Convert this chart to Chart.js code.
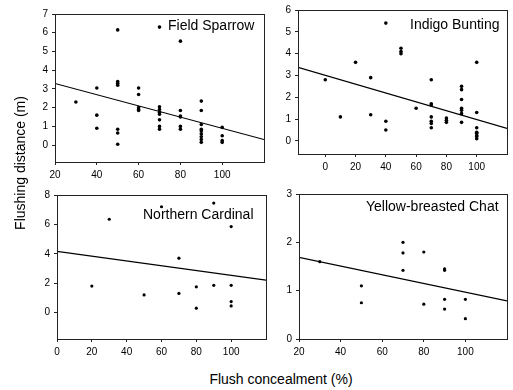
<!DOCTYPE html>
<html>
<head>
<meta charset="utf-8">
<script src="https://cdn.jsdelivr.net/npm/chart.js"></script>
<style>
body{margin:0;background:#fff;width:513px;height:390px;overflow:hidden;position:relative;font-family:"Liberation Sans",Arial,sans-serif}
canvas{position:absolute}
.t{position:absolute;color:#000;white-space:nowrap;line-height:1}
</style>
</head>
<body>
<canvas id="c1"></canvas>
<canvas id="c2"></canvas>
<canvas id="c3"></canvas>
<canvas id="c4"></canvas>
<div class="t" id="ytitle" style="font-size:14px;width:200px;text-align:center;left:-80px;top:156px;transform:rotate(-90deg)">Flushing distance (m)</div>
<div class="t" id="xtitle" style="font-size:14px;width:200px;text-align:center;left:181px;top:372px">Flush concealment (%)</div>
<script>
// Field Sparrow
const fsX = [30,40,40,40,50,50,50,50,50,50,50,60,60,60,60,60,70,70,70,70,70,70,70,70,80,80,80,80,80,80,90,90,90,90,90,90,90,90,90,100,100,100,100]
const fsY = [2.3,3.05,1.6,0.9,6.15,3.4,3.3,3.2,0.85,0.65,0.05,3.05,2.7,2.0,1.9,1.85,6.3,2.05,1.9,1.75,1.65,1.35,1.0,0.85,5.55,1.85,1.55,1.5,1.0,0.85,2.35,1.85,1.1,0.85,0.75,0.6,0.45,0.3,0.15,0.95,0.5,0.25,0.15]
const fsLineX = [20,120]
const fsLineY = [3.29,0.3]
const fsXTicks = [20,40,60,80,100]
const fsYTicks = [0,1,2,3,4,5,6,7]

// Indigo Bunting
const ibX = [0,10,20,30,30,40,40,40,50,50,50,60,70,70,70,70,70,70,70,80,80,80,90,90,90,90,90,90,90,100,100,100,100,100,100,100,100]
const ibY = [2.8,1.1,3.6,2.9,1.2,5.4,0.9,0.5,4.25,4.1,4.0,1.5,2.8,1.7,1.65,1.1,0.9,0.8,0.6,1.05,0.95,0.85,2.5,2.35,1.9,1.5,1.4,1.25,0.85,3.6,1.3,0.6,0.4,0.35,0.25,0.2,0.1]
const ibLineX = [-18,120]
const ibLineY = [3.37,0.57]
const ibXTicks = [0,20,40,60,80,100]
const ibYTicks = [0,1,2,3,4,5,6]

// Northern Cardinal
const ncX = [20,30,50,60,70,70,80,80,90,90,100,100,100,100]
const ncY = [1.8,6.35,1.2,7.2,3.7,1.3,1.75,0.3,7.45,1.85,5.85,1.85,0.75,0.45]
const ncLineX = [0,120]
const ncLineY = [4.17,2.2]
const ncXTicks = [0,20,40,60,80,100]
const ncYTicks = [0,2,4,6,8]

// Yellow-breasted Chat
const ybX = [30,50,50,70,70,70,80,80,90,90,90,90,100,100]
const ybY = [1.6,1.1,0.75,2.0,1.78,1.42,1.8,0.72,1.45,1.42,0.82,0.62,0.82,0.42]
const ybLineX = [20,120]
const ybLineY = [1.69,0.79]
const ybXTicks = [20,40,60,80,100]
const ybYTicks = [0,1,2,3]

const FONT = '"Liberation Sans", Arial, sans-serif'

const frame = {
  id: 'frame',
  afterDraw(chart, args, opts) {
    const ctx = chart.ctx, a = chart.chartArea
    ctx.save()
    ctx.strokeStyle = '#222'
    ctx.lineWidth = 1
    ctx.strokeRect(Math.round(a.left) + 0.5, Math.round(a.top) + 0.5, Math.round(a.right - a.left), Math.round(a.bottom - a.top))
    ctx.fillStyle = '#000'
    ctx.font = '14px ' + FONT
    ctx.fillText(opts.text, opts.x, opts.y)
    ctx.restore()
  }
}

function panel(id, area, xs, ys, lx, ly, xr, yr, xTicks, yTicks, label, radius) {
  const cv = document.getElementById(id)
  const left = area.l - 34, top = area.t - 8
  cv.width = area.r - area.l + 37
  cv.height = area.b - area.t + 32
  cv.style.left = left + 'px'
  cv.style.top = top + 'px'

  const axis = (range, ticks, horiz) => ({
    type: 'linear',
    min: range[0],
    max: range[1],
    afterBuildTicks: s => { s.ticks = ticks.map(v => ({ value: v })) },
    afterFit: s => { if (horiz) s.height = 24; else s.width = 34 },
    grid: { display: true, drawOnChartArea: false, drawTicks: true, tickLength: 3, color: '#222' },
    border: { display: false },
    ticks: { font: { size: 10, family: FONT }, color: '#000', padding: 4, maxRotation: 0, autoSkip: false }
  })

  new Chart(cv, {
    type: 'scatter',
    data: {
      datasets: [{
        data: xs.map((x, i) => ({ x: x, y: ys[i] })),
        pointRadius: radius,
        backgroundColor: '#000',
        borderWidth: 0
      }, {
        type: 'line',
        data: lx.map((x, i) => ({ x: x, y: ly[i] })),
        borderColor: '#000',
        borderWidth: 1.2,
        pointRadius: 0,
        fill: false
      }]
    },
    options: {
      responsive: false,
      animation: false,
      devicePixelRatio: 1,
      events: [],
      layout: { padding: { top: 8, right: 3, left: 0, bottom: 0 } },
      scales: { x: axis(xr, xTicks, true), y: axis(yr, yTicks, false) },
      plugins: {
        legend: { display: false },
        tooltip: { enabled: false },
        frame: { text: label.text, x: label.x - left, y: label.y - top }
      }
    },
    plugins: [frame]
  })
}

panel('c1', { l: 55, t: 12, r: 265, b: 162 }, fsX, fsY, fsLineX, fsLineY, [20, 120], [-0.9, 7], fsXTicks, fsYTicks, { text: 'Field Sparrow', x: 168, y: 30 }, 1.8)
panel('c2', { l: 298, t: 8, r: 508, b: 154 }, ibX, ibY, ibLineX, ibLineY, [-18, 120], [-0.6, 6], ibXTicks, ibYTicks, { text: 'Indigo Bunting', x: 410, y: 29 }, 1.8)
panel('c3', { l: 57, t: 193, r: 267, b: 339 }, ncX, ncY, ncLineX, ncLineY, [0, 120], [-1.8, 8], ncXTicks, ncYTicks, { text: 'Northern Cardinal', x: 143, y: 219 }, 1.6)
panel('c4', { l: 299, t: 192, r: 508, b: 339 }, ybX, ybY, ybLineX, ybLineY, [20, 120], [0, 3], ybXTicks, ybYTicks, { text: 'Yellow-breasted Chat', x: 366, y: 211 }, 1.6)
</script>
</body>
</html>
